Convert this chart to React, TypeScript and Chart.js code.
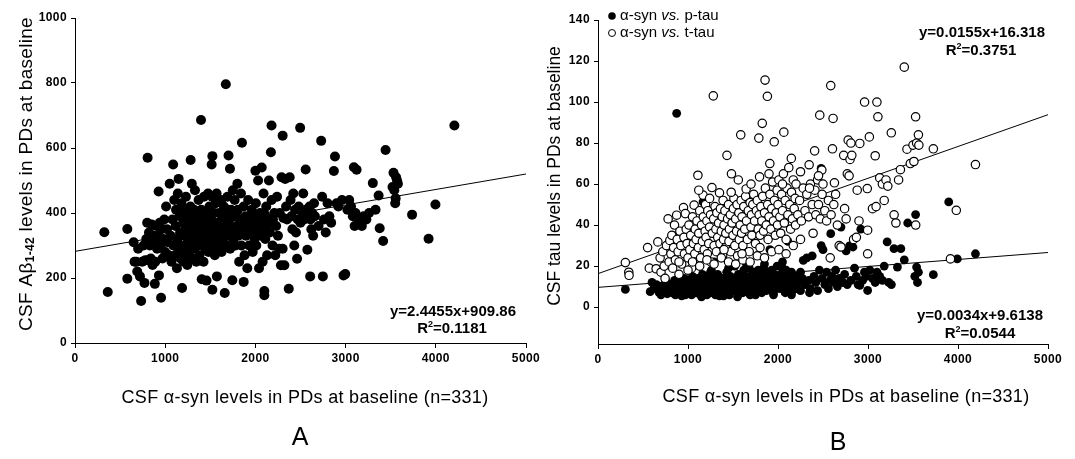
import React, { useEffect, useRef } from 'react';
import { Chart, registerables } from 'chart.js';

Chart.register(...registerables);

const FONT = '"Liberation Sans", Arial, Helvetica, sans-serif';

// ---------- tick labels ----------
const xTicks = [0, 1000, 2000, 3000, 4000, 5000];
const yTicksA = [0, 200, 400, 600, 800, 1000];
const yTicksB = [0, 20, 40, 60, 80, 100, 120, 140];

// ---------- Panel A: CSF alpha-syn vs A-beta 1-42 ----------
const abetaVsSyn: [number, number][] = [
  [325, 341], [363, 157], [580, 351], [580, 198], [650, 310], [660, 250], [680, 250], [690, 220], [700, 290], [720, 205], [733, 129],
  [745, 250], [760, 300], [770, 185], [780, 255], [790, 320], [800, 370], [805, 570], [810, 255], [820, 340], [830, 300], [840, 260],
  [850, 365], [860, 240], [870, 330], [880, 310], [885, 182], [890, 250], [900, 360], [910, 290], [920, 330], [927, 466], [931, 208],
  [940, 370], [950, 300], [954, 139], [960, 350], [970, 260], [980, 320], [990, 380], [1000, 280],
  [1010, 420], [1020, 350], [1030, 310], [1040, 270], [1050, 490], [1060, 330], [1070, 250], [1080, 380], [1088, 549], [1090, 300],
  [1100, 440], [1110, 270], [1115, 360], [1120, 410], [1130, 230], [1135, 320], [1140, 460], [1149, 505], [1150, 280], [1160, 390],
  [1165, 340], [1170, 260], [1180, 430], [1187, 169], [1190, 300], [1200, 370], [1205, 250], [1210, 410], [1220, 330], [1225, 280],
  [1230, 450], [1240, 360], [1245, 240], [1250, 310], [1260, 400], [1265, 270], [1270, 350], [1280, 420], [1282, 563], [1290, 300],
  [1295, 490], [1300, 380], [1300, 260],
  [1310, 340], [1320, 410], [1325, 290], [1330, 470], [1340, 360], [1345, 250], [1350, 320], [1360, 390], [1365, 300], [1370, 440],
  [1375, 350], [1380, 270], [1390, 330], [1397, 686], [1400, 410], [1405, 196], [1410, 300], [1420, 370], [1425, 250], [1430, 450],
  [1440, 340], [1445, 290], [1450, 400], [1458, 192], [1460, 320], [1470, 360], [1475, 460], [1480, 280], [1490, 420], [1495, 340],
  [1500, 310], [1510, 380], [1515, 549], [1520, 450], [1523, 575], [1523, 164], [1530, 300], [1540, 350], [1545, 400], [1550, 270],
  [1560, 430], [1565, 330], [1570, 460], [1573, 205], [1580, 290], [1590, 370], [1595, 310],
  [1600, 400], [1610, 340], [1620, 440], [1625, 280], [1630, 370], [1640, 310], [1650, 420], [1660, 154], [1660, 350], [1670, 390],
  [1672, 796], [1680, 300], [1690, 450], [1700, 330], [1702, 577], [1710, 380], [1718, 536], [1720, 290], [1730, 410], [1740, 350],
  [1744, 193], [1750, 470], [1755, 320], [1760, 390], [1770, 440], [1780, 300], [1790, 360], [1800, 490], [1805, 410], [1810, 330],
  [1820, 250], [1830, 380], [1840, 460], [1845, 300], [1851, 616], [1860, 350], [1870, 188], [1870, 420], [1880, 270], [1890, 390],
  [1895, 330],
  [1900, 360], [1910, 230], [1920, 440], [1930, 300], [1940, 380], [1950, 340], [1960, 410], [1970, 280], [1980, 370], [1990, 320],
  [2000, 530], [2005, 430], [2010, 300], [2020, 360], [2030, 500], [2040, 230], [2050, 400], [2060, 330], [2070, 540], [2080, 250],
  [2090, 460], [2099, 160], [2099, 147], [2100, 370], [2110, 320], [2120, 420], [2130, 270], [2140, 380], [2150, 500], [2160, 340],
  [2172, 587], [2179, 669], [2180, 440], [2190, 300], [2195, 380],
  [2210, 400], [2220, 270], [2230, 360], [2240, 450], [2250, 330], [2264, 290], [2270, 400], [2283, 239], [2290, 510], [2302, 290],
  [2302, 638], [2310, 385], [2321, 239], [2330, 505], [2340, 420], [2350, 380], [2370, 167], [2380, 510], [2390, 440], [2400, 390],
  [2410, 350], [2420, 460], [2431, 300], [2440, 410], [2450, 340], [2462, 259], [2470, 380], [2480, 420], [2496, 662], [2500, 370],
  [2520, 400], [2530, 460], [2540, 380], [2557, 534], [2560, 410], [2576, 287], [2580, 390],
  [2600, 420], [2607, 205], [2610, 380], [2620, 350], [2630, 400], [2640, 330], [2650, 430], [2660, 390], [2700, 360], [2729, 622],
  [2740, 450], [2748, 205], [2760, 380], [2780, 340], [2800, 430], [2820, 390], [2840, 370], [2870, 529], [2882, 574], [2900, 430],
  [2920, 420], [2960, 440], [2977, 208], [2996, 212],
  [3020, 410], [3040, 440], [3060, 420], [3080, 390], [3092, 541], [3100, 360], [3110, 400], [3122, 533], [3140, 380], [3180, 360],
  [3200, 390], [3230, 380], [3260, 400], [3302, 492], [3332, 410], [3366, 454], [3378, 353], [3416, 314], [3443, 594], [3520, 480],
  [3531, 524], [3540, 470], [3550, 430], [3555, 445], [3560, 510], [3570, 500], [3580, 490], [3737, 395], [3920, 321], [3996, 426],
  [4206, 669],
  [1215, 345], [1235, 385], [1255, 330], [1275, 375], [1305, 355], [1335, 315], [1355, 375], [1385, 345], [1415, 325], [1435, 385],
  [1465, 345], [1485, 395], [1505, 355], [1535, 325], [1555, 365], [1585, 345], [1615, 375], [1645, 335], [1675, 365], [1695, 410],
  [1725, 355], [1765, 335], [1795, 405], [1825, 345], [1855, 375], [1885, 355], [1915, 385], [1945, 360], [1975, 395], [2015, 345],
  [2045, 375], [2075, 355], [2105, 395], [2135, 345], [2165, 370],
];
const fitAx = [0, 5000];
const fitAy = [282, 520];

// ---------- Panel B: CSF alpha-syn vs t-tau (open) and p-tau (filled) ----------
const tTauVsSyn: [number, number][] = [
  [304, 21.7], [342, 17], [345, 15.5], [551, 29], [570, 19], [646, 18.7], [665, 31.8], [690, 24], [700, 17], [720, 27], [735, 20],
  [745, 14], [760, 30], [779, 43], [790, 22], [798, 32.5],
  [810, 26], [820, 35], [830, 19], [840, 29], [850, 40], [860, 23], [874, 44.8], [880, 33], [890, 27], [900, 16], [910, 37], [920, 30],
  [930, 21], [950, 48.5], [955, 34], [960, 26], [970, 45.6], [980, 38], [990, 31], [1000, 24],
  [1010, 40], [1020, 28], [1030, 35], [1040, 19], [1050, 44], [1060, 31], [1068, 49.7], [1075, 26], [1080, 38], [1090, 33], [1100, 42],
  [1110, 64.3], [1115, 29], [1120, 36], [1130, 47], [1140, 24], [1150, 40], [1160, 32], [1167, 54.6], [1170, 44], [1180, 28], [1190, 37],
  [1195, 50],
  [1200, 34], [1210, 42], [1215, 26], [1220, 47], [1230, 31], [1240, 39], [1250, 45], [1255, 22], [1266, 58.3], [1270, 36], [1281, 103],
  [1285, 43], [1290, 30], [1300, 49], [1310, 38], [1315, 27], [1320, 46], [1330, 34], [1340, 41], [1350, 55.7], [1355, 31], [1360, 48],
  [1370, 37], [1380, 44], [1385, 25], [1390, 52], [1395, 33],
  [1400, 40], [1410, 47], [1415, 29], [1420, 36], [1433, 74], [1440, 43], [1450, 50], [1455, 32], [1460, 38], [1470, 45], [1475, 27],
  [1483, 65], [1490, 41], [1500, 35], [1505, 48], [1510, 53], [1520, 30], [1530, 43], [1540, 37], [1545, 50], [1550, 25], [1559, 62],
  [1565, 46], [1570, 33], [1580, 40], [1586, 84], [1590, 52], [1595, 36],
  [1600, 44], [1610, 30], [1620, 49], [1630, 38], [1640, 54], [1646, 57.6], [1650, 42], [1660, 33], [1670, 47], [1680, 27], [1690, 51],
  [1700, 39], [1705, 45], [1710, 35], [1720, 50], [1730, 55], [1740, 42], [1750, 31], [1760, 47], [1770, 52], [1780, 38], [1787, 82.4],
  [1790, 45], [1795, 63.5],
  [1800, 35], [1810, 49], [1820, 42], [1825, 89.6], [1830, 54], [1840, 37], [1850, 46], [1856, 110.7], [1860, 58], [1870, 40],
  [1882, 102.8], [1885, 50], [1890, 33], [1900, 44], [1909, 70], [1910, 55], [1920, 38], [1930, 48], [1940, 61], [1950, 42],
  [1958, 80.6], [1960, 52], [1970, 35], [1980, 46], [1990, 57], [1995, 40],
  [2000, 50], [2010, 62], [2020, 44], [2030, 36], [2040, 55], [2050, 47], [2060, 65], [2065, 85.3], [2070, 41], [2080, 52], [2090, 33],
  [2100, 58], [2110, 45], [2120, 68], [2130, 50], [2140, 38], [2148, 72.5], [2150, 56], [2160, 43], [2170, 62], [2180, 48], [2190, 53],
  [2195, 40],
  [2200, 60], [2220, 45], [2240, 52], [2260, 42], [2280, 58], [2300, 47], [2320, 55], [2340, 44], [2346, 69.4], [2360, 60], [2380, 50],
  [2390, 36], [2407, 76.2], [2410, 57], [2420, 45], [2440, 62], [2450, 50], [2464, 93.6], [2470, 43], [2487, 66.8], [2490, 55], [2500, 60],
  [2520, 47], [2540, 42], [2560, 52], [2580, 24], [2586, 108], [2590, 45], [2605, 77.2], [2612, 92], [2620, 50], [2627, 60.6], [2640, 55],
  [2660, 40], [2680, 30], [2700, 29.3], [2730, 74], [2740, 48], [2757, 43], [2770, 65], [2780, 81.4], [2790, 64], [2800, 72], [2810, 80],
  [2820, 74],
  [2840, 33], [2871, 34], [2880, 57], [2900, 42], [2909, 79.8], [2962, 100], [2992, 57.8], [2996, 37.5], [2996, 26], [3015, 83],
  [3050, 48], [3080, 73.8], [3090, 49], [3099, 100], [3110, 92.8], [3130, 63], [3160, 60], [3180, 52], [3200, 62],
  [3220, 59], [3259, 85], [3290, 45], [3310, 41], [3340, 62], [3360, 67], [3403, 117], [3433, 77], [3470, 70], [3500, 79], [3510, 71],
  [3529, 92.8], [3530, 40], [3540, 80], [3560, 84], [3565, 79], [3726, 77.2], [3916, 23.5], [3981, 47.2], [4194, 69.5],
  [1050, 22], [1130, 20], [1210, 23], [1290, 21], [1370, 24], [1450, 22], [1530, 21], [1610, 23], [1690, 22], [1770, 25], [1850, 24],
  [1930, 27], [2010, 28], [2090, 26], [2170, 30], [2250, 33], [1400, 28], [1600, 26], [1800, 29], [1000, 18], [900, 22], [1120, 57],
  [1240, 53], [1480, 56], [1700, 60], [1900, 65], [2050, 60], [2250, 66], [2350, 58], [2450, 64],
];

const pTauVsSyn: [number, number][] = [
  [304, 8.6], [580, 7.5], [600, 12], [620, 9], [650, 11], [680, 7], [700, 6], [710, 10], [730, 8], [750, 13], [770, 6.5], [790, 9], [800, 11],
  [820, 7], [830, 35], [840, 9.5], [850, 13], [860, 6], [874, 94.5], [880, 8], [890, 11], [900, 15], [910, 7], [920, 10], [930, 5.5],
  [940, 12], [950, 8], [960, 14], [970, 6], [980, 9], [990, 11], [1000, 7],
  [1010, 13], [1020, 8], [1030, 10], [1040, 6], [1050, 15], [1060, 9], [1070, 12], [1080, 7], [1090, 35], [1100, 10], [1110, 14],
  [1120, 6.5], [1130, 9], [1140, 12], [1150, 8], [1160, 16], [1167, 51.3], [1170, 10], [1180, 7], [1190, 13], [1195, 9],
  [1200, 11], [1210, 6], [1220, 15], [1230, 9], [1240, 12], [1250, 7], [1260, 18], [1265, 10], [1270, 13], [1280, 8], [1290, 22],
  [1300, 11], [1305, 6], [1310, 14], [1320, 9], [1330, 16], [1340, 7], [1350, 12], [1360, 10], [1370, 25], [1375, 8], [1380, 14],
  [1390, 11], [1395, 5.5],
  [1400, 9], [1410, 13], [1420, 7], [1430, 17], [1440, 10], [1450, 12], [1460, 6], [1470, 15], [1480, 9], [1490, 11], [1500, 14],
  [1510, 8], [1520, 20], [1530, 10], [1540, 13], [1550, 7], [1560, 16], [1570, 11], [1580, 9], [1590, 14],
  [1600, 12], [1610, 7], [1620, 18], [1630, 10], [1640, 15], [1650, 8], [1660, 13], [1670, 11], [1680, 19], [1690, 6], [1700, 14],
  [1705, 10], [1710, 16], [1720, 12], [1730, 8], [1740, 17], [1750, 11], [1760, 14], [1770, 9], [1780, 18], [1790, 13],
  [1800, 10], [1810, 16], [1820, 7], [1830, 14], [1840, 19], [1850, 11], [1860, 13], [1870, 8], [1880, 17], [1890, 12], [1900, 15],
  [1910, 28], [1920, 10], [1930, 18], [1940, 13], [1950, 7], [1960, 16], [1970, 11], [1980, 14], [1990, 20], [2000, 40],
  [2010, 12], [2020, 9], [2030, 16], [2040, 13], [2050, 22], [2060, 10], [2070, 15], [2080, 7], [2090, 18], [2100, 12], [2110, 32],
  [2120, 9], [2130, 14], [2140, 11], [2150, 17], [2160, 8], [2170, 13], [2180, 10], [2190, 15],
  [2210, 9], [2230, 12], [2250, 8], [2270, 14], [2281, 22.8], [2300, 11], [2320, 24], [2340, 13], [2360, 9], [2380, 25], [2400, 15],
  [2420, 12], [2440, 8], [2460, 18], [2479, 67.6], [2480, 30], [2490, 14], [2500, 28],
  [2520, 11], [2540, 17], [2560, 9], [2580, 13], [2586, 35.8], [2600, 15], [2620, 12], [2640, 18], [2660, 10], [2680, 14], [2700, 39],
  [2720, 12], [2740, 16], [2757, 27.4], [2770, 11], [2795, 29.8],
  [2810, 13], [2833, 29.3], [2850, 19], [2870, 15], [2890, 11], [2909, 10.6], [2920, 38], [2940, 13], [2960, 17], [2980, 15], [2996, 8.1],
  [3020, 18], [3050, 14], [3080, 12], [3100, 17], [3130, 15], [3160, 13], [3180, 20], [3213, 31.8], [3230, 12], [3260, 11], [3289, 28.5],
  [3327, 19.5], [3365, 28.5], [3403, 23], [3441, 41], [3520, 15], [3529, 45.1], [3540, 19.5], [3550, 12], [3560, 17], [3726, 15.8],
  [3897, 51.3], [3992, 23.5], [4194, 26],
  [1150, 5], [1350, 5.5], [1550, 5], [1750, 6], [1950, 6], [2150, 6], [2350, 7], [1250, 17], [1450, 19], [1650, 21], [1850, 21],
  [2050, 19], [2250, 17],
];
const fitBx = [0, 5000];
const fitTTau = [16.318, 93.818];
const fitPTau = [9.6138, 26.6138];

// ---------- helpers ----------
type Seg = { t: string; font: string; dy?: number };

function drawSegs(ctx: CanvasRenderingContext2D, segs: Seg[], x: number, y: number, align: 'center' | 'left' = 'center') {
  const widths = segs.map((s) => {
    ctx.font = s.font;
    return ctx.measureText(s.t).width;
  });
  const total = widths.reduce((a, b) => a + b, 0);
  let cx = align === 'center' ? x - total / 2 : x;
  ctx.textAlign = 'left';
  ctx.textBaseline = 'middle';
  segs.forEach((s, i) => {
    ctx.font = s.font;
    ctx.fillText(s.t, cx, y + (s.dy || 0));
    cx += widths[i];
  });
}

function pts(arr: [number, number][]) {
  return arr.map(([x, y]) => ({ x, y }));
}
function linePts(xs: number[], ys: number[]) {
  return xs.map((x, i) => ({ x, y: ys[i] }));
}

function makeScales(yTicks: number[], yMin: number, yMax: number, yWidth: number, xHeight: number) {
  const tickFont = { family: FONT, size: 12, weight: 'bold' as const };
  return {
    x: {
      type: 'linear' as const,
      min: 0,
      max: 5000,
      afterBuildTicks: (s: any) => {
        s.ticks = xTicks.map((v) => ({ value: v }));
      },
      ticks: { color: '#000', font: tickFont, padding: 3, maxRotation: 0, autoSkip: false, callback: (v: any) => String(v) },
      grid: { drawOnChartArea: false, drawTicks: true, tickLength: 5, color: '#000', lineWidth: 1 },
      border: { display: true, color: '#000', width: 1 },
      afterFit: (s: any) => {
        s.height = xHeight;
      },
    },
    y: {
      type: 'linear' as const,
      min: yMin,
      max: yMax,
      afterBuildTicks: (s: any) => {
        s.ticks = yTicks.map((v) => ({ value: v }));
      },
      ticks: { color: '#000', font: tickFont, padding: 4, autoSkip: false, callback: (v: any) => String(v) },
      grid: { drawOnChartArea: false, drawTicks: true, tickLength: 4, color: '#000', lineWidth: 1 },
      border: { display: true, color: '#000', width: 1 },
      afterFit: (s: any) => {
        s.width = yWidth;
      },
    },
  };
}

const spacingPlugin = {
  id: 'spacing',
  beforeDraw(chart: any) {
    chart.ctx.letterSpacing = '0.4px';
  },
};

function textPluginA() {
  return {
    id: 'textA',
    afterDraw(chart: any) {
      const ctx: CanvasRenderingContext2D = chart.ctx;
      ctx.save();
      ctx.fillStyle = '#000';
      (ctx as any).letterSpacing = '0.3px';
      ctx.save();
      ctx.translate(27, 174);
      ctx.rotate(-Math.PI / 2);
      drawSegs(ctx, [
        { t: 'CSF A\u03b2', font: `19px ${FONT}` },
        { t: '1-42', font: `bold 12px ${FONT}`, dy: 4 },
        { t: ' levels in PDs at baseline', font: `19px ${FONT}` },
      ], 0, 0);
      ctx.restore();
      drawSegs(ctx, [{ t: 'CSF \u03b1-syn levels in PDs at baseline (n=331)', font: `18px ${FONT}` }], 305, 398);
      (ctx as any).letterSpacing = '0px';
      drawSegs(ctx, [{ t: 'A', font: `25px ${FONT}` }], 300, 438);
      drawSegs(ctx, [{ t: 'y=2.4455x+909.86', font: `bold 15px ${FONT}` }], 453, 312);
      drawSegs(ctx, [
        { t: 'R', font: `bold 15px ${FONT}` },
        { t: '2', font: `bold 9px ${FONT}`, dy: -4 },
        { t: '=0.1181', font: `bold 15px ${FONT}` },
      ], 452, 329);
      ctx.restore();
    },
  };
}

function textPluginB() {
  return {
    id: 'textB',
    afterDraw(chart: any) {
      const ctx: CanvasRenderingContext2D = chart.ctx;
      ctx.save();
      ctx.fillStyle = '#000';
      (ctx as any).letterSpacing = '0px';
      ctx.save();
      ctx.translate(10, 176);
      ctx.rotate(-Math.PI / 2);
      drawSegs(ctx, [{ t: 'CSF tau levels in PDs at baseline', font: `17.5px ${FONT}` }], 0, 0);
      ctx.restore();
      (ctx as any).letterSpacing = '0.3px';
      drawSegs(ctx, [{ t: 'CSF \u03b1-syn levels in PDs at baseline (n=331)', font: `18px ${FONT}` }], 301, 397);
      (ctx as any).letterSpacing = '0px';
      drawSegs(ctx, [{ t: 'B', font: `25px ${FONT}` }], 293, 443);
      // legend
      ctx.beginPath();
      ctx.arc(67, 16, 3.8, 0, Math.PI * 2);
      ctx.fillStyle = '#000';
      ctx.fill();
      ctx.beginPath();
      ctx.arc(67, 33, 3.5, 0, Math.PI * 2);
      ctx.fillStyle = '#fff';
      ctx.fill();
      ctx.strokeStyle = '#000';
      ctx.lineWidth = 1;
      ctx.stroke();
      ctx.fillStyle = '#000';
      drawSegs(ctx, [
        { t: '\u03b1-syn ', font: `15px ${FONT}` },
        { t: 'vs.', font: `italic 15px ${FONT}` },
        { t: ' p-tau', font: `15px ${FONT}` },
      ], 75, 16, 'left');
      drawSegs(ctx, [
        { t: '\u03b1-syn ', font: `15px ${FONT}` },
        { t: 'vs.', font: `italic 15px ${FONT}` },
        { t: ' t-tau', font: `15px ${FONT}` },
      ], 75, 33, 'left');
      drawSegs(ctx, [{ t: 'y=0.0155x+16.318', font: `bold 15px ${FONT}` }], 437, 33);
      drawSegs(ctx, [
        { t: 'R', font: `bold 15px ${FONT}` },
        { t: '2', font: `bold 9px ${FONT}`, dy: -4 },
        { t: '=0.3751', font: `bold 15px ${FONT}` },
      ], 436, 51);
      drawSegs(ctx, [{ t: 'y=0.0034x+9.6138', font: `bold 15px ${FONT}` }], 435, 316);
      drawSegs(ctx, [
        { t: 'R', font: `bold 15px ${FONT}` },
        { t: '2', font: `bold 9px ${FONT}`, dy: -4 },
        { t: '=0.0544', font: `bold 15px ${FONT}` },
      ], 435, 334);
      ctx.restore();
    },
  };
}

function PanelA() {
  const ref = useRef<HTMLCanvasElement | null>(null);
  useEffect(() => {
    if (!ref.current) return;
    const chart = new Chart(ref.current, {
      type: 'scatter',
      data: {
        datasets: [
          {
            label: 'A\u03b2 1-42',
            data: pts(abetaVsSyn),
            pointRadius: 5,
            pointBackgroundColor: '#000',
            pointBorderColor: '#000',
            pointBorderWidth: 0,
            order: 1,
          },
          {
            label: 'fit',
            data: linePts(fitAx, fitAy),
            showLine: true,
            borderColor: '#000',
            borderWidth: 1,
            pointRadius: 0,
            order: 2,
          } as any,
        ],
      },
      options: {
        animation: false,
        responsive: false,
        devicePixelRatio: 1,
        layout: { padding: { left: 0, right: 19, top: 18, bottom: 0 } },
        plugins: { legend: { display: false }, tooltip: { enabled: false } },
        scales: makeScales(yTicksA, 0, 1000, 75, 116) as any,
      },
      plugins: [spacingPlugin, textPluginA()],
    });
    return () => chart.destroy();
  }, []);
  return <canvas ref={ref} width={545} height={459} style={{ position: 'absolute', left: 0, top: 0 }} />;
}

function PanelB() {
  const ref = useRef<HTMLCanvasElement | null>(null);
  useEffect(() => {
    if (!ref.current) return;
    const chart = new Chart(ref.current, {
      type: 'scatter',
      data: {
        datasets: [
          {
            label: '\u03b1-syn vs. p-tau',
            data: pts(pTauVsSyn),
            pointRadius: 4.4,
            pointBackgroundColor: '#000',
            pointBorderColor: '#000',
            pointBorderWidth: 0,
            order: 2,
          },
          {
            label: '\u03b1-syn vs. t-tau',
            data: pts(tTauVsSyn),
            pointRadius: 4.2,
            pointBackgroundColor: '#fff',
            pointBorderColor: '#000',
            pointBorderWidth: 1.2,
            order: 1,
          },
          {
            label: 'fit t-tau',
            data: linePts(fitBx, fitTTau),
            showLine: true,
            borderColor: '#000',
            borderWidth: 1,
            pointRadius: 0,
            order: 3,
          } as any,
          {
            label: 'fit p-tau',
            data: linePts(fitBx, fitPTau),
            showLine: true,
            borderColor: '#000',
            borderWidth: 1,
            pointRadius: 0,
            order: 3,
          } as any,
        ],
      },
      options: {
        animation: false,
        responsive: false,
        devicePixelRatio: 1,
        layout: { padding: { left: 0, right: 27, top: 20, bottom: 0 } },
        plugins: { legend: { display: false }, tooltip: { enabled: false } },
        scales: makeScales(yTicksB, -18, 140, 53, 115) as any,
      },
      plugins: [spacingPlugin, textPluginB()],
    });
    return () => chart.destroy();
  }, []);
  return <canvas ref={ref} width={530} height={459} style={{ position: 'absolute', left: 545, top: 0 }} />;
}

export default function App() {
  return (
    <div style={{ position: 'fixed', left: 0, top: 0, width: 1075, height: 459, background: '#fff', overflow: 'hidden' }}>
      <PanelA />
      <PanelB />
    </div>
  );
}
